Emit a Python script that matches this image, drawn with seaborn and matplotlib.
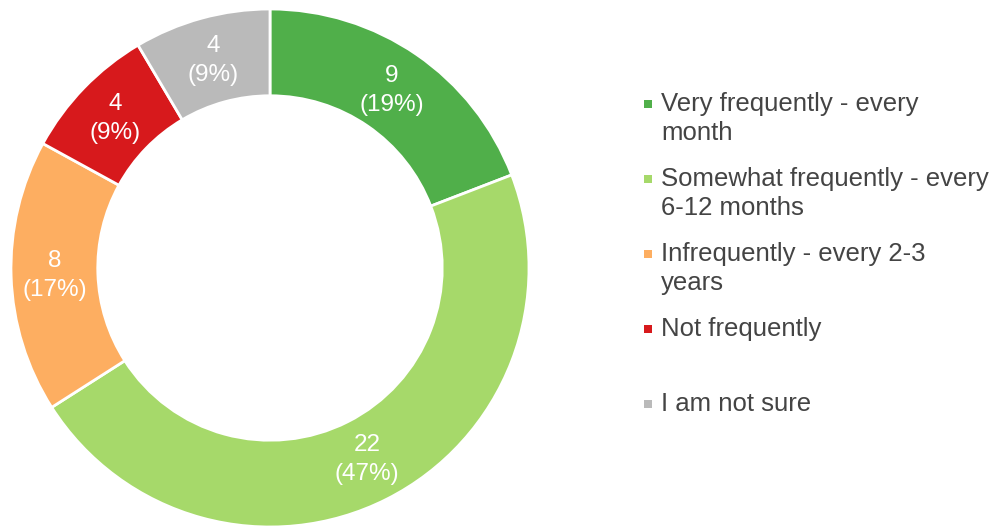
import matplotlib
matplotlib.use("Agg")
import matplotlib.pyplot as plt
import seaborn as sns

## Data
categories = ["Very frequently - every\nmonth",
              "Somewhat frequently - every\n6-12 months",
              "Infrequently - every 2-3\nyears",
              "Not frequently",
              "I am not sure"]
counts = [9, 22, 8, 4, 4]
colors = ["#50AF4A", "#A6D96A", "#FDAE61", "#D7191C", "#BABABA"]

sns.set_style('white')
plt.rcParams['font.family'] = ['Liberation Sans', 'DejaVu Sans']

W, H = 1003, 527
fig = plt.figure(figsize=(W / 100, H / 100), dpi=100)

# donut axes: centre ~ (270, 268) px, outer radius ~259 px
ax = fig.add_axes([11 / W, 0 / H, 518 / W, 518 / H])
total = sum(counts)


def fmt(p):
    return f"{round(p * total / 100)}\n({p:.0f}%)"


wedges, texts, autotexts = ax.pie(
    counts, colors=colors, startangle=90, counterclock=False,
    autopct=fmt, pctdistance=0.83,
    wedgeprops=dict(width=0.335, edgecolor='white', linewidth=2),
    textprops=dict(color='white', fontsize=17.5, linespacing=1.4))
ax.set_xlim(-1, 1)
ax.set_ylim(-1, 1)
ax.set_aspect('equal')
ax.axis('off')

# legend, placed by hand so every entry gets the same slot height
leg_x = 661
first_y = 104
step = 75
for i, (lab, col) in enumerate(zip(categories, colors)):
    yc = first_y + i * step
    fig.patches.append(plt.Rectangle(((leg_x - 17) / W, 1 - (yc + 4) / H), 8 / W, 8 / H,
                                     transform=fig.transFigure, facecolor=col,
                                     edgecolor='none'))
    fig.text(leg_x / W, 1 - (yc - 12) / H, lab, fontsize=18.5, color='#444444',
             va='top', ha='left', linespacing=1.25)

fig.savefig("out.png", dpi=100)
